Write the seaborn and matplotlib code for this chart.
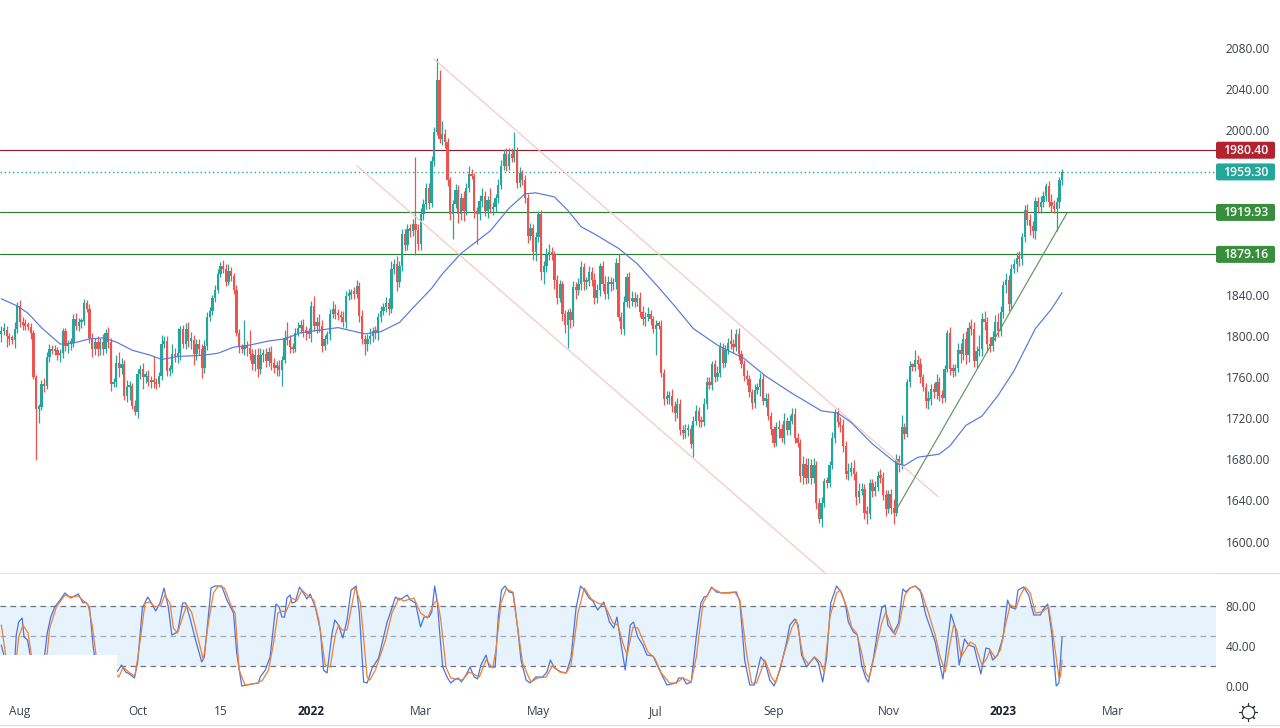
import matplotlib
matplotlib.use("Agg")
import matplotlib.pyplot as plt
from matplotlib.patches import FancyBboxPatch, Rectangle
from matplotlib.transforms import blended_transform_factory
import numpy as np
import pandas as pd
import seaborn as sns

closes = [
 1805,1806,1800,1797,1796,1807,1829,1813,1811,1810,
 1809,1803,1760,1729,1731,1753,1751,1779,1787,1785,
 1786,1781,1783,1805,1790,1792,1793,1816,1810,1813,
 1814,1832,1826,1798,1787,1794,1787,1794,1787,1803,
 1794,1753,1755,1774,1769,1773,1742,1750,1751,1732,
 1726,1763,1768,1760,1761,1755,1756,1755,1753,1761,
 1792,1795,1766,1768,1782,1780,1783,1807,1792,1807,
 1795,1796,1782,1792,1787,1769,1790,1818,1824,1837,
 1845,1860,1868,1865,1852,1863,1858,1845,1803,1789,
 1787,1790,1788,1782,1773,1781,1768,1781,1782,1776,
 1784,1774,1769,1771,1767,1777,1798,1796,1789,1787,
 1803,1808,
 1811,1805,1803,1802,1829,1810,1813,1810,1790,1797,
 1802,1821,1826,1821,1820,1818,1813,1839,1840,1842,
 1841,1848,1819,1797,1792,1797,1800,1805,1803,1818,
 1824,1828,1832,1826,1865,1870,1852,1868,1899,1888,
 1904,1902,1909,1903,1889,1918,1928,1944,1929,1970,
 1998,2049,1991,1996,1988,1951,1918,1928,1942,1918,
 1934,1921,1944,1957,1955,1921,1918,1931,1936,1921,
 1932,1923,1925,1934,1947,1965,1977,1965,1977,1973,
 1980,1949,1958,1951,1934,1897,1905,1881,1896,1918,
 1862,1868,1879,1881,1879,1854,1837,1850,1821,1811,
 1823,1815,1847,1845,1850,
 1867,1852,1853,1862,1854,1837,1845,1868,1850,1841,
 1852,1850,1852,1871,1818,1807,1833,1857,1834,1837,
 1833,1837,1823,1816,1818,1821,1816,1807,1811,1810,
 1764,1739,1740,1742,1732,1725,1734,1708,1706,1708,
 1709,1695,1717,1727,1717,1716,1734,1755,1752,1773,
 1760,1764,1789,1774,1786,1793,1792,1789,1802,1782,
 1773,1761,1758,1745,1735,1747,1750,1758,1737,1739,
 1722,1709,1696,1711,1709,1701,1717,1708,1717,1724,
 1701,1696,1664,1675,1662,1674,1662,1674,1638,
 1622,1638,1659,1657,1674,1701,1726,1716,1713,1693,
 1666,1668,1672,1666,1643,1649,1651,1628,1627,1657,
 1649,1653,1664,1662,1645,1632,1646,1633,1628,1680,
 1674,1711,1705,1755,1771,1770,1777,1773,1760,1750,
 1737,1739,1748,1745,1755,1742,1740,1768,1803,1768,
 1766,1769,1786,
 1782,1797,1781,1808,1807,1776,1785,1787,1816,1813,
 1792,1790,1799,1813,1805,1823,1849,1854,1831,1865,
 1870,1876,1875,1896,1922,1913,1907,1902,1931,1925,
 1930,1936,1946,1930,1926,1923,1930,1951,1959,
]
upper_wicks = [
 5,6,4,3,4,6,4,6,5,5, 3,3,3,2,3,4,6,5,5,4, 5,3,4,3,3,4,5,5,6,4, 3,4,3,5,5,4,6,4,8,4,
 6,4,4,7,10,5,4,7,5,3, 6,5,4,6,5,6,5,24,4,4, 9,5,5,4,10,6,25,3,4,5, 6,8,5,5,5,5,6,5,4,3,
 4,5,4,6,5,7,4,3,4,4, 3,25,5,18,5,6,7,7,5,6, 5,6,4,5,6,3,8,15,5,4, 5,5,
 4,5,5,5,5,10,5,8,5,4, 3,5,8,5,5,4,6,5,6,4, 5,6,4,6,4,5,8,4,5,4, 5,4,6,5,8,5,8,5,5,5,
 5,5,5,65,6,6,5,5,5,5, 5,21,9,13,5,4,3,4,6,5, 5,7,5,8,5,3,4,6,8,5, 4,12,5,4,5,6,5,6,6,6,
 18,4,6,3,5,4,5,4,5,3, 4,5,6,8,5,3,5,4,3,4, 3,4,6,5,6,
 6,4,4,6,5,7,5,3,5,8, 6,5,4,5,9,5,6,4,5,7, 6,4,6,6,5,7,4,3,4,3, 5,4,6,4,6,5,6,5,5,6,
 5,4,5,6,4,5,6,5,5,3, 4,7,5,4,5,5,14,5,5,6, 4,4,6,4,3,6,4,6,5,5, 5,4,3,5,7,5,8,4,6,6,
 6,5,4,8,6,7,6,7,4,
 4,5,3,4,4,6,3,4,5,6, 5,8,5,7,3,8,6,5,7,4, 4,6,5,7,6,5,4,5,8,5, 4,12,4,3,5,3,9,4,5,3,
 4,7,5,6,8,5,5,4,3,6, 5,4,7,
 7,6,8,5,8,6,5,14,6,8, 5,7,6,7,9,6,4,7,5,5, 5,5,6,4,5,6,5,5,4,4, 6,5,3,4,8,6,5,3,3,
]
lower_wicks = [
 8,4,11,6,4,8,4,4,5,4, 3,6,2,50,14,3,6,3,4,3, 4,4,6,5,5,7,6,4,4,5, 5,3,3,5,8,6,7,6,6,4,
 6,7,3,5,9,6,4,6,12,3, 3,6,5,12,6,4,6,6,5,3, 4,4,5,5,4,5,6,6,4,5, 6,8,10,5,6,10,5,4,4,4,
 4,3,3,4,4,3,5,4,3,6, 4,6,8,5,6,7,8,5,6,6, 5,7,5,8,6,16,3,5,6,4, 3,3,
 5,6,7,4,8,5,7,6,6,4, 5,6,4,5,5,5,4,5,4,4, 5,4,6,5,11,7,5,6,6,7, 5,4,5,6,4,5,8,5,5,6,
 5,6,5,24,6,6,5,5,6,4, 5,3,4,6,5,5,5,24,4,8, 5,9,4,4,3,6,29,5,6,5, 6,4,6,5,5,4,4,5,4,4,
 4,5,4,4,5,7,4,7,8,5, 8,12,6,5,5,8,6,4,7,8, 23,7,5,9,5,
 5,7,6,5,6,6,5,6,6,5, 5,6,5,6,4,5,6,5,7,5, 5,4,5,5,6,4,5,4,26,3, 4,6,5,6,6,8,5,4,6,5,
 5,4,13,4,6,5,4,5,4,5, 5,4,4,5,4,4,5,6,4,5, 4,5,6,4,6,5,4,8,4,6, 4,5,4,3,8,4,6,4,4,3,
 5,4,6,8,6,5,6,5,6,
 4,8,4,5,4,3,5,5,6,6, 5,6,4,6,7,5,4,6,10,5, 6,5,4,5,5,7,4,6,11,3, 6,3,5,3,5,4,4,5,6,4,
 7,8,6,5,6,5,5,4,3,6, 6,5,4,
 8,5,8,6,6,6,7,5,7,7, 8,6,5,4,6,5,6,7,7,5, 4,8,7,6,5,5,9,7,8,6, 6,5,5,5,6,4,21,6,4,
]

ma_bars = [0,6,10,15,22,27,33,38,43,49,56,60,66,75,81,87,93,100,106,112,126,136,142,149,154,161,165,172,178,183,190,196,200,207,212,217,222,231,238,246,252,259,268,278,286,296,307,313,318,326,335,338,343,351,355,361,367,373,379,387,393,397]
ma_vals = [1836,1829,1822,1808,1792,1793,1797,1798,1794,1786,1781,1777,1780,1781,1783,1789,1791,1795,1797,1803,1808,1802,1804,1813,1827,1846,1860,1880,1892,1902,1924,1938,1939,1935,1922,1906,1899,1885,1870,1847,1829,1807,1791,1778,1761,1744,1727,1725,1716,1695,1676,1674,1682,1685,1693,1713,1722,1742,1766,1807,1826,1842]

k_bars = [0,1.2,3,5,5.6,6.5,7.8,8.5,9.8,11,14,16,17.2,18.5,20,22,23.8,26,28.8,30.6,31.5,33,34.4,35,38,40,43.8,45,46.5,48,49.8,51,52.8,54.8,56.2,57.8,59.4,60.9,62.5,63.8,66,67.9,69,70.6,72.5,75,76,78.5,80,82.5,84.4,86.9,88.1,90,91.9,96.2,96.9,98.8,100.6,102.8,104,105,106,106.9,108.1,108.8,110,111.6,113.1,114.4,115.6,117.5,119.4,120.6,121.9,123.8,124.8,126.2,127.8,129.4,130.9,132.8,134,135.6,136.9,138.8,141.2,144.4,145.6,147.5,149,151.9,153.1,155,156.9,
 158.2,160.1,161.1,162.2,163.2,164.2,165.2,167,168.2,169.5,171,172.2,173.9,175.4,177,178.2,179.5,181.4,182.6,184.8,186,187.2,188.5,190.1,191.6,193.2,194.5,196.4,197.9,200.1,202.6,204.2,205.5,207,209.5,211.4,213.2,215.1,216.8,218.2,219.9,221.4,223.2,225.5,227.6,229.2,230.4,232,233.5,235.4,236.6,238.2,240.1,241.6,243.9,245.8,247.6,249.1,252.6,253.5,255.1,256.4,258.2,260.1,261.8,263,264.2,265.8,267.6,270.1,272.6,275.1,276.4,278.2,280.1,281.8,284.2,285.8,287.6,289.2,291.4,293.9,295.1,297,298.2,299.5,301.4,304.2,305.8,307.4,308.9,310.4,312.6,
 314.5,315.8,317,318.9,320.4,322,323.5,324.5,326.4,328.2,329.5,330.8,331.8,333.9,335.8,337.4,338.5,340.1,342,343.9,346,347.6,349.5,352.4,355.4,357,358.5,360.5,362,364.1,366.6,368.5,369.8,371,372.9,374.9,376.6,377.6,379.5,380.5,382.6,384.5,386.4,388.9,389.8,391.6,393.2,394.8,395.8,397]
k_vals = [41,28,22,24,51,64,68,49,46,28,20,26,53,69,79,86,93,88,92,83,84,79,39,28,15,5,16,21,14,12,8,23,78,89,83,75,83,98,79,51,54,83,83,68,48,24,29,98,100,100,86,73,33,0,1,3,9,16,29,82,79,69,69,88,91,83,84,99,93,87,92,79,56,16,13,53,66,61,48,66,96,100,73,4,3,18,28,64,73,89,86,91,86,83,59,
 69,69,74,100,83,49,19,8,3,6,8,4,11,19,9,7,21,31,19,19,69,96,100,94,93,59,26,6,3,9,9,14,26,18,14,13,28,78,100,96,88,85,76,84,64,58,69,41,16,61,64,49,41,31,30,19,9,1,3,8,8,2,4,49,83,89,90,99,94,93,93,94,84,26,1,1,29,24,6,0,16,44,61,67,61,31,19,29,23,4,29,83,100,
 93,83,64,54,51,21,8,4,28,59,78,81,61,53,63,97,94,98,100,96,71,59,44,7,72,59,21,47,41,39,12,38,37,26,31,49,86,79,77,96,99,91,71,71,76,82,51,0,3,49]

d_bars = [0,1.9,5.6,6.5,8.1,10,11.5,16.9,18.1,20.6,23.8,25.6,28.8,32.5,34,35.6,44,45.6,48.1,50,51.5,53.8,55.6,57.5,59.8,61.2,63.1,64.4,65.9,67.5,69.4,71.2,73.8,75.6,77.5,79.4,81.2,83.5,86.2,87.5,89,91.2,96,97.8,100,101.9,103.5,105,106.5,108.8,110.6,112.5,114.4,116.9,118.8,121.2,123.1,125,126.2,127.5,129.4,132.5,134.4,136.9,137.9,140,143.8,146.2,148.8,150.6,154.4,156.9,
 159.5,162,163.2,164.5,166.4,168.2,170.1,172.6,175.1,178.9,181.4,183.9,185.1,187,188.9,191.4,193.2,195.1,198.2,200.8,203.9,206.4,208.9,211.4,213.2,215.8,218.2,220.8,223.2,225.8,228.9,230.8,232.6,234.2,236.4,238.2,242,244.5,247,250.1,252.6,255.1,258.2,260.1,262.6,265.8,269.5,274.5,276.4,278.9,280.8,282.6,285.8,288.2,289.8,292.6,295.8,297.6,300.1,302,304.5,306.4,308,310.1,312.6,313.9,
 316.4,318.2,320.1,322,323.5,324.8,327,329.5,331,333.2,334.5,336,338.2,340.1,342,344.5,347,349.5,351.4,353.3,355.1,356.4,357.6,359.2,360.8,362.6,364.5,367,368.9,370.1,372,373.9,375.8,377.6,379.8,381.4,383.2,385.1,387,389.5,392,393.5,395.8,396.4,397]
d_vals = [61,26,26,49,61,53,26,26,58,79,91,89,90,81,61,28,9,19,13,10,36,83,84,79,81,91,83,58,53,66,81,74,46,26,63,93,100,98,79,73,16,1,3,6,16,43,73,75,74,88,85,96,91,86,66,21,19,51,61,56,56,99,83,9,6,16,46,73,88,85,88,73,
 68,83,86,66,19,8,7,6,14,9,26,18,36,83,97,94,59,23,4,8,9,21,14,13,21,73,98,87,83,81,63,61,43,31,59,58,34,28,13,3,3,8,4,29,83,98,93,94,86,33,3,3,26,9,3,29,58,66,29,22,29,24,14,69,93,96,
 79,59,53,33,13,8,33,63,74,58,51,61,91,98,100,93,73,51,29,14,43,61,56,29,36,44,41,21,28,36,28,36,61,81,78,91,99,93,73,74,79,53,9,9,26]

upper_channel_bars = [161.9, 350.6]
upper_channel_prices = [2069, 1643.6]
lower_channel_bars = [133.1, 308.6]
lower_channel_prices = [1965.3, 1568.8]
trend_bars = [334.5, 398.9]
trend_prices = [1629, 1919.6]

level_red = 1980.40
level_last = 1959.30
levels_green = [1919.93, 1879.16]
price_ticks = [2080, 2040, 2000, 1840, 1800, 1760, 1720, 1680, 1640, 1600]
osc_ticks = [80, 40, 0]
osc_bands = [80, 50, 20]
date_bars = [7, 51, 82, 116, 157, 201, 245, 289, 332, 375, 416]
date_labels = ["Aug", "Oct", "15", "2022", "Mar", "May", "Jul", "Sep", "Nov", "2023", "Mar"]

GREEN, RED = "#26a69a", "#ef5350"
TXT = "#3a3e4a"
W, H = 1280, 728

sns.set_theme(style="white")
plt.rcParams["font.family"] = ["Open Sans", "DejaVu Sans"]

def box(l, t, r, b):
    return [l / W, 1 - b / H, (r - l) / W, (b - t) / H]

fig = plt.figure(figsize=(W / 100, H / 100), dpi=100, facecolor="white")
ax = fig.add_axes(box(0, 0, 1216, 573))
osc = fig.add_axes(box(0, 574, 1216, 698))

# candles
df = pd.DataFrame({"close": closes, "up": upper_wicks, "dn": lower_wicks})
df["bar"] = np.arange(len(df))
df["open"] = df["close"].shift(1).fillna(df["close"] - 3)
df["top"] = df[["open", "close"]].max(axis=1)
df["bot"] = df[["open", "close"]].min(axis=1)
df["high"] = df["top"] + df["up"]
df["low"] = df["bot"] - df["dn"]
df["col"] = np.where(df["close"] >= df["open"], GREEN, RED)
ax.vlines(df["bar"], df["low"], df["high"], colors=df["col"], lw=0.9, zorder=3)
ax.bar(df["bar"], (df["top"] - df["bot"]).clip(lower=2.5), bottom=df["bot"], width=0.85,
       color=df["col"], linewidth=0, zorder=4)

ax.axhline(level_red, color="#8e1f33", lw=0.85, zorder=2)
ax.axhline(level_last, color=GREEN, lw=1.0, ls=(0, (1, 2)), zorder=2)
for lv in levels_green:
    ax.axhline(lv, color="#2e7d32", lw=0.85, zorder=2)

sns.lineplot(x=upper_channel_bars, y=upper_channel_prices, ax=ax, color="#f6c6c1", lw=0.85, zorder=5)
sns.lineplot(x=lower_channel_bars, y=lower_channel_prices, ax=ax, color="#f6c6c1", lw=0.85, zorder=5)
sns.lineplot(x=trend_bars, y=trend_prices, ax=ax, color="#5f9660", lw=0.85, zorder=5)
sns.lineplot(x=ma_bars, y=ma_vals, ax=ax, color="#5578de", lw=0.85, zorder=6)

ax.set_xlim(-0.49, 454.6)
ax.set_ylim(1569.5, 2126.4)
ax.yaxis.tick_right()
ax.set_yticks(price_ticks, [f"{t:.2f}" for t in price_ticks], fontsize=8.6, color=TXT)
ax.tick_params(axis="y", length=0, pad=7)
ax.set_xticks([])
ax.set_xlabel("")
ax.set_ylabel("")
sns.despine(ax=ax, left=True, right=True, top=True, bottom=True)

# price tags
tr = blended_transform_factory(ax.transAxes, ax.transData)
tag_w, tag_h = 59 / 1216, 17 / 1.029
aspect = (1 / 1.029) / (1 / 1216)
for value, colour in [(level_red, "#b2222f"), (level_last, GREEN),
                      (levels_green[0], "#388e3c"), (levels_green[1], "#388e3c")]:
    ax.add_patch(FancyBboxPatch((1.0, value - tag_h / 2), tag_w, tag_h, transform=tr,
                                boxstyle=f"round,pad=0,rounding_size={2 / 1216}",
                                mutation_aspect=aspect, fc=colour, ec="none", clip_on=False, zorder=7))
    ax.text(1.0 + tag_w / 2, value - 0.4, f"{value:.2f}", transform=tr, ha="center", va="center",
            color="white", fontsize=8.8, fontweight="semibold", clip_on=False, zorder=8)

# oscillator
osc.axhspan(osc_bands[2], osc_bands[0], color="#e6f3fd", lw=0, zorder=1)
for b in osc_bands:
    osc.axhline(b, color="#a5a8b0" if b == 50 else "#70737d", lw=0.9, ls=(0, (4.5, 3.5)), zorder=2)
sns.lineplot(x=k_bars, y=k_vals, ax=osc, color="#4a74e0", lw=0.9, zorder=3)
sns.lineplot(x=d_bars, y=d_vals, ax=osc, color="#ee8038", lw=0.9, zorder=4)
osc.add_patch(Rectangle((-0.49, -5), 43.9, 36, fc="white", ec="none", zorder=6))
osc.set_xlim(-0.49, 454.6)
osc.set_ylim(-12, 112)
osc.yaxis.tick_right()
osc.set_yticks(osc_ticks, [f"{t:.2f}" for t in osc_ticks], fontsize=8.6, color=TXT)
osc.tick_params(axis="y", length=0, pad=7)
osc.set_xticks(date_bars, date_labels, fontsize=8.6, color=TXT)
osc.tick_params(axis="x", length=0, pad=5)
for lab in osc.get_xticklabels():
    if lab.get_text().isdigit() and len(lab.get_text()) == 4:
        lab.set_fontweight("bold")
        lab.set_color("#1c2030")
osc.set_xlabel("")
osc.set_ylabel("")
sns.despine(ax=osc, left=True, right=True, top=True, bottom=True)

# separators and settings icon
over = fig.add_axes([0, 0, 1, 1], zorder=-1)
over.set_xlim(0, W)
over.set_ylim(H, 0)
over.axis("off")
over.axhline(573, color="#e0e3eb", lw=1)
over.axhline(725, color="#e0e3eb", lw=1)
icon = fig.add_axes([0, 0, 1, 1], zorder=9)
icon.set_xlim(0, W)
icon.set_ylim(H, 0)
icon.axis("off")
icon.patch.set_alpha(0)
icon.plot([1248], [711.5], marker=(8, 2, 0), ms=13, mew=0.8, color="#2a2e39")
icon.plot([1248], [711.5], marker="o", ms=9, mew=0.8, mfc="white", mec="#2a2e39")

fig.savefig("out.png", dpi=100, facecolor="white")
